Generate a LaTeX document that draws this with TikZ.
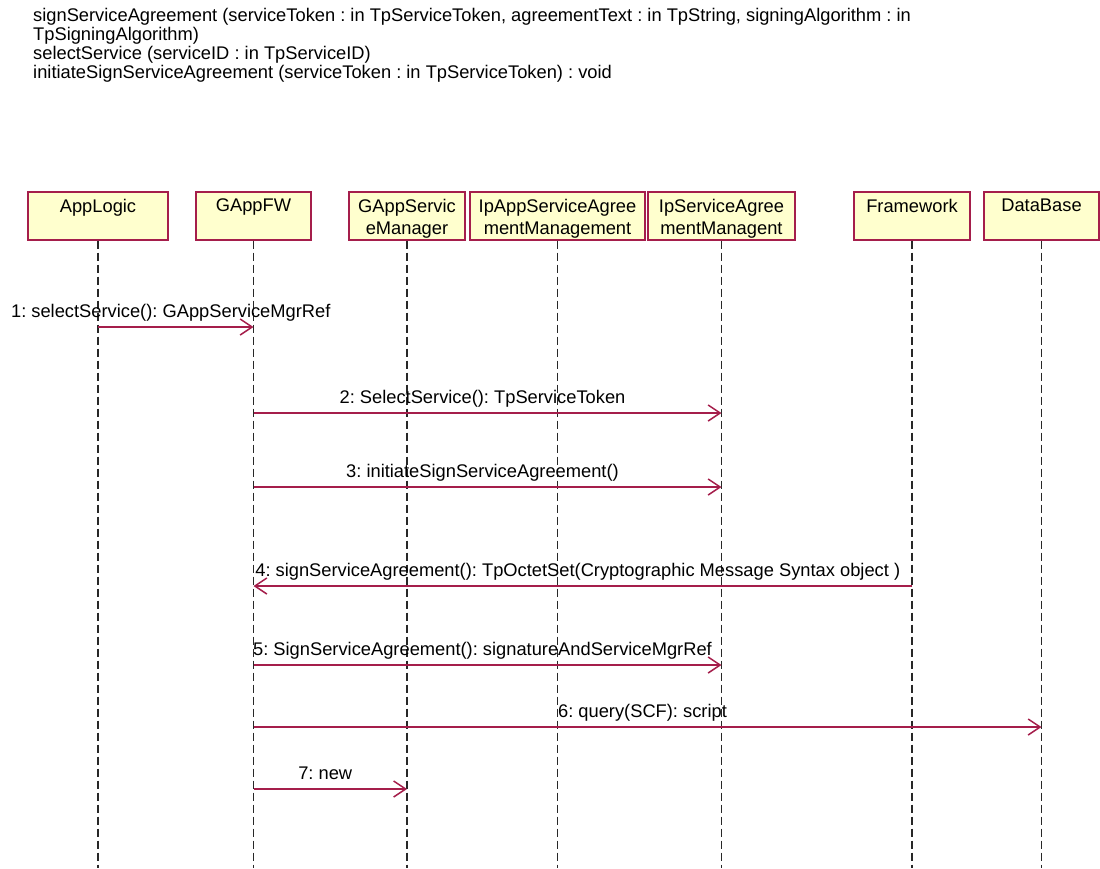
\documentclass[tikz,border=0pt]{standalone}
\usepackage{fontspec}
\setmainfont{Liberation Sans}
\usetikzlibrary{arrows.meta}
\definecolor{umlred}{RGB}{165,30,75}
\definecolor{umlfill}{RGB}{255,255,206}
\definecolor{lifegray}{RGB}{40,40,40}
\frenchspacing

\begin{document}
\begin{tikzpicture}[x=1pt,y=-1pt,
  objbox/.style={draw=umlred, fill=umlfill, line width=1.5pt, minimum height=48pt, inner sep=0pt, anchor=north},
  objtext/.style={anchor=north, inner sep=0pt, align=center, font=\fontsize{18.3}{22}\selectfont},
  toptext/.style={anchor=north west, inner sep=0pt, align=left, font=\fontsize{18.3}{19}\selectfont},
  lifeline/.style={draw=lifegray, line width=1.2pt, dash pattern=on 8pt off 4pt},
  msg/.style={draw=umlred, line width=1.5pt, -{Straight Barb[length=12pt,width=16pt]}},
  msglabel/.style={anchor=base, inner sep=0pt, font=\fontsize{18.3}{19}\selectfont, xshift=-5pt, yshift=10pt},
]
\fill[white] (0,0) rectangle (1100,868);
\useasboundingbox (0,0) rectangle (1100,868);

% operation list
\node[toptext] (ops) at (33,8) {signServiceAgreement (serviceToken : in TpServiceToken, agreementText : in TpString, signingAlgorithm : in\\TpSigningAlgorithm)\\selectService (serviceID : in TpServiceID)\\initiateSignServiceAgreement (serviceToken : in TpServiceToken) : void};

% participants
\node[objbox, minimum width=140pt] (applogic)  at (98,191)    {};
\node[objbox, minimum width=115pt] (gappfw)    at (253.5,191) {};
\node[objbox, minimum width=116pt] (gappsm)    at (407,191)   {};
\node[objbox, minimum width=175pt] (ipappsam)  at (557.5,191) {};
\node[objbox, minimum width=147pt] (ipsam)     at (721.5,191) {};
\node[objbox, minimum width=116pt] (framework) at (912,191)   {};
\node[objbox, minimum width=115pt] (database)  at (1041.5,191) {};

\node[objtext] (applogic-t)  at ([yshift=-8pt]applogic.north)  {AppLogic};
\node[objtext] (gappfw-t)    at ([yshift=-8pt]gappfw.north)    {GAppFW};
\node[objtext] (gappsm-t)    at ([yshift=-8pt]gappsm.north)    {GAppServic\\eManager};
\node[objtext] (ipappsam-t)  at ([yshift=-8pt]ipappsam.north)  {IpAppServiceAgree\\mentManagement};
\node[objtext] (ipsam-t)     at ([yshift=-8pt]ipsam.north)     {IpServiceAgree\\mentManagent};
\node[objtext] (framework-t) at ([yshift=-8pt]framework.north) {Framework};
\node[objtext] (database-t)  at ([yshift=-8pt]database.north)  {DataBase};

% lifelines
\coordinate (bottom) at (0,868);
\foreach \p in {applogic,gappfw,gappsm,ipappsam,ipsam,framework,database}{
  \draw[lifeline] (\p.south) -- (\p.south |- bottom);
}

% message rows
\coordinate (r1) at (0,327);
\coordinate (r2) at (0,413);
\coordinate (r3) at (0,487);
\coordinate (r4) at (0,586);
\coordinate (r5) at (0,665);
\coordinate (r6) at (0,727);
\coordinate (r7) at (0,789);

% messages
\draw[msg] (applogic |- r1) -- node[msglabel] {1: selectService(): GAppServiceMgrRef} (gappfw |- r1);
\draw[msg] (gappfw |- r2) -- node[msglabel] {2: SelectService(): TpServiceToken} (ipsam |- r2);
\draw[msg] (gappfw |- r3) -- node[msglabel] {3: initiateSignServiceAgreement()} (ipsam |- r3);
\draw[msg] (framework |- r4) -- node[msglabel] {4: signServiceAgreement(): TpOctetSet(Cryptographic Message Syntax object )} (gappfw |- r4);
\draw[msg] (gappfw |- r5) -- node[msglabel] {5: SignServiceAgreement(): signatureAndServiceMgrRef} (ipsam |- r5);
\draw[msg] (gappfw |- r6) -- node[msglabel] {6: query(SCF): script} (database |- r6);
\draw[msg] (gappfw |- r7) -- node[msglabel] {7: new} (gappsm |- r7);
\end{tikzpicture}
\end{document}
